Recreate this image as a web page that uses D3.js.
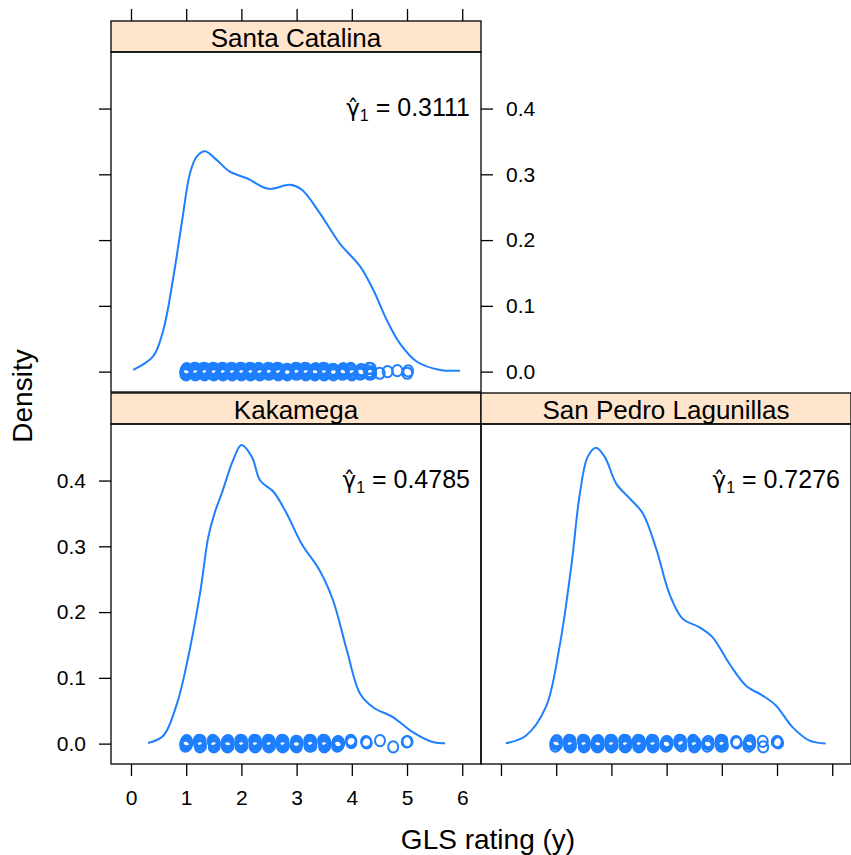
<!doctype html>
<html>
<head>
    <style>
        body { margin: 0; background: #fff; }
        svg text { font-family: "Liberation Sans", Arial, Helvetica, sans-serif; fill: #000; }
        .tick line { stroke: #000; stroke-width: 1.3; }
        .tick text { font-size: 21px; }
    </style>
    <script src="https://d3js.org/d3.v7.min.js"></script>
</head>
<body>
<script>
    // panel names (lattice layout order)
    var panels = ["Santa Catalina", "Kakamega", "San Pedro Lagunillas"];
    var skewLabels = ["0.3111", "0.4785", "0.7276"];

    // density curves: [rating, density]
    var densSantaCatalina = [[0.04, 0.0026], [0.40, 0.023], [0.585, 0.063], [0.77, 0.145], [0.92, 0.226],
        [1.07, 0.302], [1.19, 0.327], [1.34, 0.335], [1.55, 0.322], [1.79, 0.304], [2.10, 0.294],
        [2.49, 0.278], [2.88, 0.284], [3.09, 0.277], [3.42, 0.241], [3.78, 0.195], [4.15, 0.160],
        [4.39, 0.124], [4.63, 0.079], [4.87, 0.043], [5.18, 0.015], [5.60, 0.0026], [5.96, 0.0015]];
    var densKakamega = [[0.31, 0.001], [0.585, 0.012], [0.83, 0.060], [1.01, 0.121], [1.25, 0.228],
        [1.40, 0.314], [1.52, 0.352], [1.65, 0.382], [1.85, 0.431], [2.0, 0.454], [2.19, 0.436], [2.34, 0.400],
        [2.58, 0.383], [2.82, 0.350], [3.09, 0.304], [3.42, 0.263], [3.66, 0.218], [3.91, 0.142],
        [4.15, 0.076], [4.39, 0.055], [4.75, 0.040], [5.11, 0.017], [5.48, 0.002], [5.69, 0.0005]];
    var densSanPedro = [[0.09, 0.0005], [0.45, 0.012], [0.81, 0.055], [1.06, 0.147], [1.28, 0.274],
        [1.42, 0.375], [1.57, 0.436], [1.72, 0.450], [1.88, 0.436], [2.09, 0.395], [2.33, 0.373],
        [2.57, 0.350], [2.82, 0.294], [3.05, 0.228], [3.29, 0.190], [3.59, 0.177], [3.83, 0.162],
        [4.14, 0.121], [4.44, 0.088], [4.74, 0.073], [4.98, 0.058], [5.28, 0.025], [5.58, 0.005], [5.88, 0]];

    // observed ratings and how many respondents gave each
    var ratingsSantaCatalina = [1, 7/6, 8/6, 9/6, 10/6, 11/6, 2, 13/6, 14/6, 15/6, 16/6, 17/6, 3,
        19/6, 20/6, 21/6, 22/6, 23/6, 4, 25/6, 26/6, 27/6, 28/6, 29/6, 5];
    var countsSantaCatalina = [10, 12, 14, 14, 12, 12, 12, 12, 12, 10, 10, 10, 10, 10, 10, 10, 8, 8, 6, 6, 6, 1, 1, 1, 2];
    var ratingsKakamega = [1, 1.25, 1.5, 1.75, 2, 2.25, 2.5, 2.75, 3, 3.25, 3.5, 3.75, 4, 4.25, 4.5, 4.75, 5];
    var countsKakamega = [8, 8, 10, 12, 12, 12, 12, 12, 10, 10, 10, 8, 3, 2, 1, 1, 2];
    var ratingsSanPedro = [1, 1.25, 1.5, 1.75, 2, 2.25, 2.5, 2.75, 3, 3.25, 3.5, 3.75, 4, 4.25, 4.5, 4.75, 5];
    var countsSanPedro = [6, 10, 12, 12, 12, 12, 12, 10, 6, 6, 8, 5, 8, 2, 6, 2, 3];

    // small fixed jitter offsets (data units) used to spread overlapping points
    var jitterY = [0.0045, -0.004, 0.001, -0.005, 0.005, -0.001, 0.0025, -0.0025, 0.0035, -0.0035, 0, 0.003, -0.0015, 0.0015];
    var jitterX = [0.01, -0.015, 0.02, 0, -0.02, 0.015, -0.005, 0.005, -0.01, 0.018, -0.018, 0.008, 0, -0.008];

    var xTicks = [0, 1, 2, 3, 4, 5, 6];
    var yTicks = [0, 0.1, 0.2, 0.3, 0.4];

    var dens = [densSantaCatalina, densKakamega, densSanPedro];
    var ratings = [ratingsSantaCatalina, ratingsKakamega, ratingsSanPedro];
    var counts = [countsSantaCatalina, countsKakamega, countsSanPedro];

    var W = 851, H = 855;
    var panelW = 370, plotH = 340, stripH = 31;
    var blue = "#1e7fff";
    // panel positions: top-left, bottom-left, bottom-right
    var pos = [{ x: 111, y: 21 }, { x: 111, y: 393 }, { x: 481, y: 393 }];

    var svg = d3.select("body").append("svg")
        .attr("width", W).attr("height", H);

    var x = d3.scaleLinear().domain([-0.362, 6.34]).range([0, panelW]);
    var y = d3.scaleLinear().domain([-0.031, 0.486]).range([plotH, 0]);

    var line = d3.line()
        .x(function (d) { return x(d[0]); })
        .y(function (d) { return y(d[1]); })
        .curve(d3.curveCatmullRom.alpha(0.5));

    pos.forEach(function (p, i) {
        var g = svg.append("g").attr("transform", "translate(" + p.x + "," + p.y + ")");

        // strip
        g.append("rect").attr("width", panelW).attr("height", stripH)
            .attr("fill", "#ffe5cc").attr("stroke", "#000").attr("stroke-width", 1.3);
        g.append("text").attr("x", panelW / 2).attr("y", 26)
            .attr("text-anchor", "middle").style("font-size", "26px")
            .text(panels[i]);

        var pg = g.append("g").attr("transform", "translate(0," + stripH + ")");

        // points
        var pts = [];
        ratings[i].forEach(function (r, k) {
            for (var j = 0; j < counts[i][k]; j++) {
                var idx = (j * 5 + k * 3) % jitterY.length;
                pts.push([r + jitterX[idx], jitterY[idx]]);
            }
        });
        pg.selectAll("ellipse").data(pts).enter().append("ellipse")
            .attr("cx", function (d) { return x(d[0]); })
            .attr("cy", function (d) { return y(d[1]); })
            .attr("rx", 5).attr("ry", 5.6)
            .attr("fill", "none").attr("stroke", blue).attr("stroke-width", 2);

        // density curve
        pg.append("path").datum(dens[i]).attr("d", line)
            .attr("fill", "none").attr("stroke", blue).attr("stroke-width", 2);

        // skewness annotation: gamma-hat (combining circumflex) with subscript 1
        var ann = pg.append("text").attr("x", panelW - 11).attr("y", 64)
            .attr("text-anchor", "end").style("font-size", "25px");
        ann.append("tspan").style("font-family", "'DejaVu Sans', sans-serif")
            .style("font-size", "23px").text("\u03b3\u0302");
        ann.append("tspan").attr("dy", 5).style("font-size", "16px").text("1");
        ann.append("tspan").attr("dy", -5).text(" = " + skewLabels[i]);

        // panel border
        pg.append("rect").attr("width", panelW).attr("height", plotH)
            .attr("fill", "none").attr("stroke", "#000").attr("stroke-width", 1.3);

        p.g = pg;
    });

    function axis(g, ax) {
        g.call(ax);
        g.select(".domain").remove();
    }

    var fmt = d3.format(".1f");
    // top-left panel: top ticks, left ticks, right labelled axis
    axis(svg.append("g").attr("transform", "translate(" + pos[0].x + "," + pos[0].y + ")"),
        d3.axisTop(x).tickValues(xTicks).tickSize(12).tickFormat(""));
    axis(pos[0].g.append("g"), d3.axisLeft(y).tickValues(yTicks).tickSize(12).tickFormat(""));
    axis(pos[0].g.append("g").attr("transform", "translate(" + panelW + ",0)"),
        d3.axisRight(y).tickValues(yTicks).tickSize(12).tickPadding(13).tickFormat(fmt));
    // bottom-left panel: labelled left and bottom axes
    axis(pos[1].g.append("g"), d3.axisLeft(y).tickValues(yTicks).tickSize(12).tickPadding(13).tickFormat(fmt));
    axis(pos[1].g.append("g").attr("transform", "translate(0," + plotH + ")"),
        d3.axisBottom(x).tickValues(xTicks).tickSize(12).tickPadding(14).tickFormat(d3.format("d")));
    // bottom-right panel: bottom ticks only
    axis(pos[2].g.append("g").attr("transform", "translate(0," + plotH + ")"),
        d3.axisBottom(x).tickValues(xTicks).tickSize(12).tickFormat(""));

    svg.selectAll(".tick text").attr("fill", "#000").style("font-family", "'Liberation Sans', Arial, sans-serif");

    // axis titles
    svg.append("text").attr("x", 488).attr("y", 849).attr("text-anchor", "middle")
        .style("font-size", "28px").text("GLS rating (y)");
    svg.append("text").attr("transform", "translate(32,396) rotate(-90)")
        .attr("text-anchor", "middle").style("font-size", "28px").text("Density");
</script>
</body>
</html>
